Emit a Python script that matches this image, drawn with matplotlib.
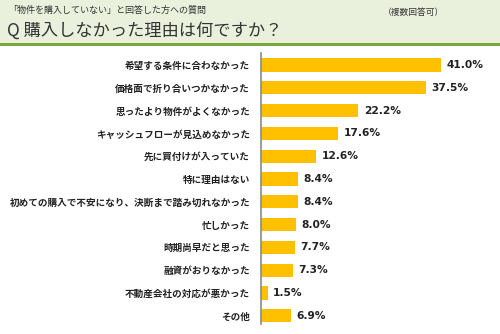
import matplotlib
matplotlib.use("Agg")
import matplotlib.pyplot as plt
from matplotlib.patches import Rectangle

plt.rcParams['font.family'] = ['Noto Sans CJK JP', 'DejaVu Sans']

categories = [
    "希望する条件に合わなかった",
    "価格面で折り合いつかなかった",
    "思ったより物件がよくなかった",
    "キャッシュフローが見込めなかった",
    "先に買付けが入っていた",
    "特に理由はない",
    "初めての購入で不安になり、決断まで踏み切れなかった",
    "忙しかった",
    "時期尚早だと思った",
    "融資がおりなかった",
    "不動産会社の対応が悪かった",
    "その他",
]
values = [41.0, 37.5, 22.2, 17.6, 12.6, 8.4, 8.4, 8.0, 7.7, 7.3, 1.5, 6.9]

subtitle = "「物件を購入していない」と回答した方への質問"
note = "（複数回答可）"
title = "Q 購入しなかった理由は何ですか？"

W, H = 500, 334
fig = plt.figure(figsize=(W / 100, H / 100), dpi=100)
fig.patch.set_facecolor("white")

# header band
fig.patches.append(Rectangle((0, 1 - 43 / H), 1, 43 / H, transform=fig.transFigure,
                             facecolor="#e9f0dc", edgecolor="none", zorder=0))
fig.patches.append(Rectangle((0, 1 - 46 / H), 1, 3 / H, transform=fig.transFigure,
                             facecolor="#78a83c", edgecolor="none", zorder=1))

fig.text(8 / W, 1 - 10 / H, subtitle, fontsize=6.5, color="#333333", va="center", ha="left")
fig.text(383 / W, 1 - 13 / H, note, fontsize=6.3, color="#333333", va="center", ha="left")
fig.text(7 / W, 1 - 31 / H, title, fontsize=12.4, color="#333333", va="center", ha="left")

# bar chart area
top_px, bot_px = 53, 324
left_px = 261
ax = fig.add_axes([left_px / W, 1 - bot_px / H, (W - left_px) / W, (bot_px - top_px) / H])
ax.set_facecolor("none")

pos = list(range(len(values)))
ax.barh(pos, values, height=0.58, color="#ffc000", edgecolor="none")
ax.set_xlim(0, (W - left_px) / 4.39)
y0 = (top_px - 65) / 22.8
y1 = (bot_px - 65) / 22.8
ax.set_ylim(y1, y0)

for s in ["top", "right", "bottom"]:
    ax.spines[s].set_visible(False)
ax.spines["left"].set_color("#8a8a8a")
ax.spines["left"].set_linewidth(1.2)

ax.set_xticks([])
ax.set_yticks(pos)
ax.set_yticklabels(categories, fontsize=6.9, fontweight="bold", color="#222222")
ax.tick_params(axis="y", length=0, pad=7.9)

for p, v in zip(pos, values):
    ax.annotate(f"{v:.1f}%", xy=(v, p), xytext=(3.8, 0), textcoords="offset points",
                va="center", ha="left", fontsize=7.7, fontweight="bold",
                color="#222222", family="DejaVu Sans")

fig.savefig("out.png", dpi=100)
